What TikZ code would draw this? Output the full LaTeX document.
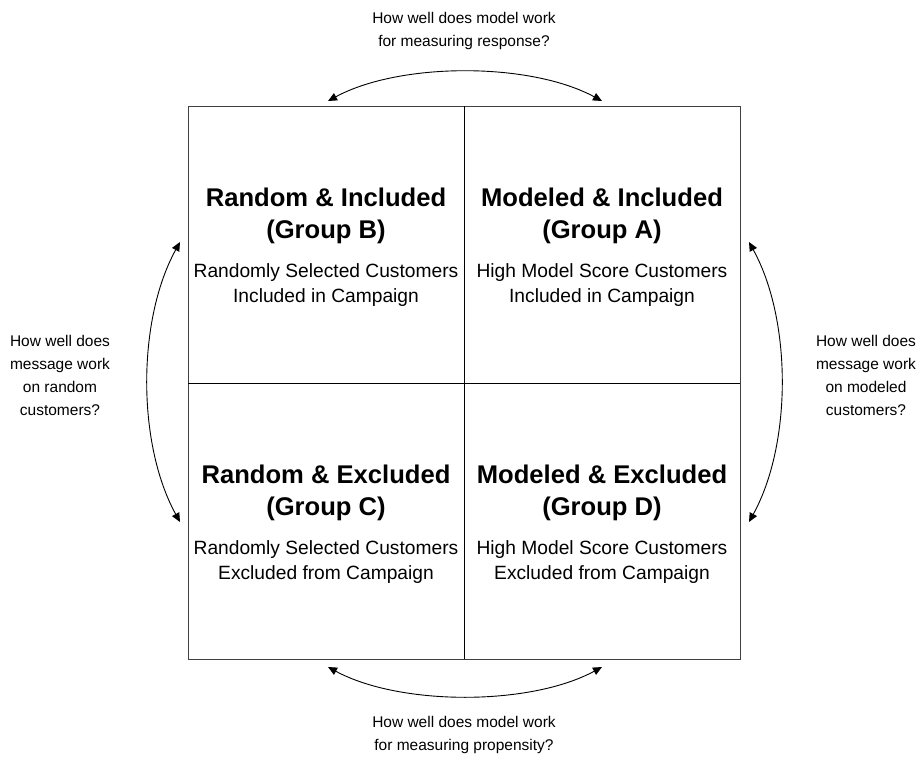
\documentclass[tikz,border=0pt]{standalone}
\usepackage{fontspec}
\setmainfont{Liberation Sans}
\usetikzlibrary{arrows.meta}
\begin{document}
\begin{tikzpicture}[x=1pt,y=-1pt,
  title/.style={font=\fontsize{25.6}{32}\selectfont\bfseries, align=center},
  sub/.style={font=\fontsize{19.2}{25}\selectfont, align=center},
  lbl/.style={font=\fontsize{15.5}{23}\selectfont, align=center},
  arr/.style={{Triangle[length=9pt,width=8pt]}-{Triangle[length=9pt,width=8pt]}, line width=0.9pt}]
\useasboundingbox (0,0) rectangle (924,763);
\draw[line width=0.9pt, black!75] (188,106) rectangle (740,659);
\draw[line width=0.8pt] (464,106) -- (464,659);
\draw[line width=0.8pt] (188,383) -- (740,383);
\node[title] (tB) at (326,216) {Random \& Included\\(Group B)};
\node[sub] (sB) at (326,285) {Randomly Selected Customers\\Included in Campaign};
\node[title] (tA) at (602,216) {Modeled \& Included\\(Group A)};
\node[sub] (sA) at (602,285) {High Model Score Customers\\Included in Campaign};
\node[title] (tC) at (326,493) {Random \& Excluded\\(Group C)};
\node[sub] (sC) at (326,562) {Randomly Selected Customers\\Excluded from Campaign};
\node[title] (tD) at (602,493) {Modeled \& Excluded\\(Group D)};
\node[sub] (sD) at (602,562) {High Model Score Customers\\Excluded from Campaign};
\node[lbl] (lt) at (464,31) {How well does model work\\for measuring response?};
\node[lbl] (lb) at (464,735) {How well does model work\\for measuring propensity?};
\node[lbl] (ll) at (60,375) {How well does\\message work\\on random\\customers?};
\node[lbl] (lr) at (866,375) {How well does\\message work\\on modeled\\customers?};
\coordinate (t1) at (328,101); \coordinate (t2) at (602,101);
\coordinate (b1) at (328,667); \coordinate (b2) at (602,667);
\coordinate (l1) at (180,242); \coordinate (l2) at (180,522);
\coordinate (r1) at (749,242); \coordinate (r2) at (749,522);
\draw[arr] (t1) .. controls (400,62) and (530,62) .. (t2);
\draw[arr] (b1) .. controls (400,706) and (530,706) .. (b2);
\draw[arr] (l1) .. controls (137,320) and (137,444) .. (l2);
\draw[arr] (r1) .. controls (792,320) and (792,444) .. (r2);
\end{tikzpicture}
\end{document}
